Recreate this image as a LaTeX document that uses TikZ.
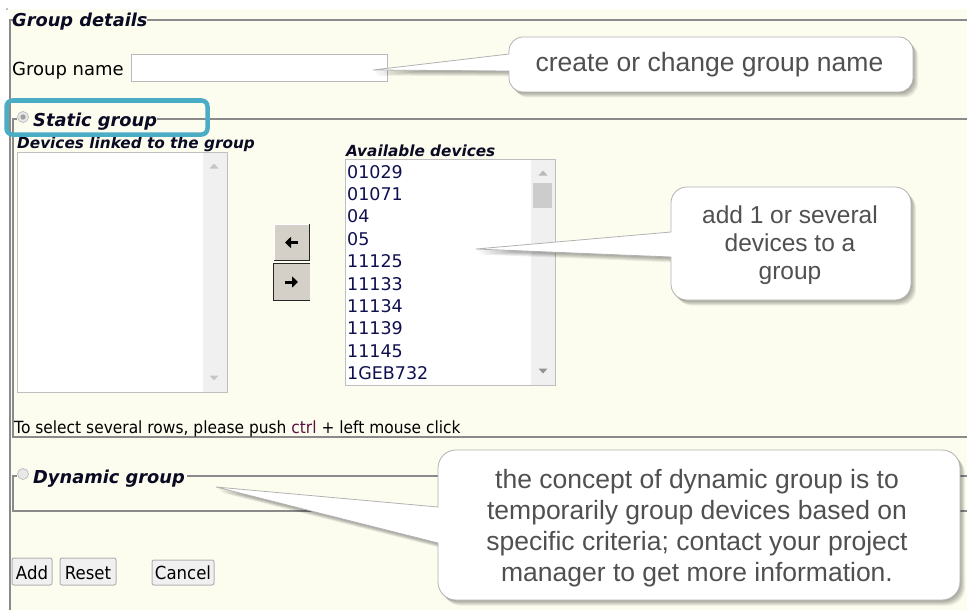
\documentclass[tikz,border=0pt]{standalone}
\usepackage{fontspec}
\setmainfont{DejaVu Sans}
\newfontfamily\formfont{DejaVu Sans}
\newfontfamily\callfont{Liberation Sans}
\newfontfamily\narrowfont[FakeStretch=0.92]{DejaVu Sans}
\usetikzlibrary{arrows.meta}
\definecolor{cream}{HTML}{FDFDEF}
\definecolor{fsgray}{HTML}{8A8A8A}
\definecolor{hiblue}{HTML}{4BACC6}
\definecolor{calltext}{HTML}{505050}
\definecolor{legendc}{HTML}{0A0A24}
\definecolor{itemc}{HTML}{101050}
\definecolor{btnface}{HTML}{D4D0C8}
\newcommand{\calloutOnePath}{(373,70) -- (509,71) [rounded corners=14pt] -- (509,92) -- (913,92) -- (913,37) -- (509,37) [sharp corners] -- (509,54) -- cycle}
\newcommand{\calloutTwoPath}{(476,249) -- (671,257) [rounded corners=16pt] -- (671,300) -- (911,300) -- (911,187) -- (671,187) [sharp corners] -- (671,232) -- cycle}
\newcommand{\calloutThreePath}{(216,487) -- (438,543) [rounded corners=18pt] -- (438,600) -- (960,600) -- (960,450) -- (438,450) [sharp corners] -- (438,507) -- cycle}
\newcommand{\softshadow}[1]{%
  \foreach \k in {1,2,3,4,5}{%
    \fill[black, opacity=0.07, shift={(\k,\k+0.5)}] #1;%
  }}
\tikzset{
  fsline/.style={draw=fsgray, line width=1.8pt},
  legend/.style={font=\formfont\bfseries\itshape\fontsize{17.8}{21}\selectfont, text=legendc, inner sep=0pt, anchor=base west},
  sublegend/.style={font=\formfont\bfseries\itshape\fontsize{15.3}{18}\selectfont, text=legendc, inner sep=0pt, anchor=base west},
  formtext/.style={font=\formfont\fontsize{18}{21}\selectfont, inner sep=0pt, anchor=base west},
  item/.style={font=\formfont\fontsize{17.5}{21}\selectfont, text=itemc, inner sep=0pt, anchor=base west},
  smalltext/.style={font=\narrowfont\fontsize{16.8}{20}\selectfont, inner sep=0pt, anchor=base west},
  btn/.style={draw=gray!60, fill=gray!12, rounded corners=2pt, line width=1pt},
  btntext/.style={font=\narrowfont\fontsize{18}{21}\selectfont, inner sep=0pt, anchor=base},
  listbox/.style={draw=gray!50, fill=white, line width=0.9pt},
  track/.style={fill=gray!12},
  callout/.style={fill=white, draw=gray!60, line width=0.8pt},
  calltxt/.style={font=\callfont\fontsize{26.5}{31}\selectfont, text=calltext, inner sep=0pt, anchor=base},
  calltxtb/.style={font=\callfont\fontsize{24.5}{29}\selectfont, text=calltext, inner sep=0pt, anchor=base},
  radio/.style={draw=gray!55, fill=gray!18, line width=0.7pt},
  arrowglyph/.style={line width=3pt, -{Triangle[length=6pt,width=11pt]}},
}
\begin{document}
\begin{tikzpicture}[x=1pt,y=-1pt]
\useasboundingbox (0,0) rectangle (967,610);
\fill[white] (0,0) rectangle (967,610);
\fill[cream] (9,9) rectangle (967,610);
\fill[gray!50] (5.5,8) rectangle (7.5,10);

% Group details fieldset
\draw[fsline] (13,20) -- (10,20) -- (10,610);
\draw[fsline] (147,20) -- (967,20);
\node[legend] (gd) at (12,26.5) {Group details};

% group name
\node[formtext] (gn) at (12,75.5) {Group name};
\draw[gray!55, fill=white, line width=0.9pt] (131.5,54.5) rectangle (387,81) coordinate (gnbox);

% Static group fieldset
\draw[fsline] (18,119) -- (13,119) -- (13,437) -- (967,437);
\draw[fsline] (157,119) -- (967,119);
\fill[cream] (17,110) rectangle (31,124);
\draw[radio] (23,117) circle (5.5);
\fill[gray!75] (23,117) circle (2.7);
\node[legend] (sg) at (33,126) {Static group};

\node[sublegend] (dl) at (17,148) {Devices linked to the group};
\node[sublegend] (ad) at (346,156.5) {Available devices};

% left list
\draw[listbox] (17.5,152.5) rectangle (227,392);
\fill[track] (203,153) rectangle (226.5,391.5);
\fill[gray!45] (209.5,168.5) -- (218.5,168.5) -- (214,163.5) -- cycle;
\fill[gray!45] (209.5,375.5) -- (218.5,375.5) -- (214,380.5) -- cycle;

% right list
\draw[listbox] (345.5,159.5) rectangle (555,385);
\fill[track] (531,160) rectangle (554.5,384.5);
\fill[gray!40] (533,183) rectangle (551.5,208);
\fill[gray!55] (538.5,175.5) -- (547.5,175.5) -- (543,170.5) -- cycle;
\fill[gray!85] (538.5,368.5) -- (547.5,368.5) -- (543,373.5) -- cycle;
\foreach \t [count=\i from 0] in {01029,01071,04,05,11125,11133,11134,11139,11145,1GEB732}{
  \node[item] (it\i) at (347,178+22.4*\i) {\t};
}

% arrow buttons
\fill[btnface] (274,224) rectangle (310,261);
\draw[white, line width=1.2pt] (274.5,261) -- (274.5,224.5) -- (310,224.5);
\draw[gray!30!black, line width=1.6pt] (274,260.5) -- (309.5,260.5) -- (309.5,224);
\coordinate (blr) at (298,242.5);
\coordinate (bll) at (285,242.5);
\draw[arrowglyph] (blr) -- (bll);
\fill[btnface] (273,263) rectangle (310,301);
\draw[gray!30!black, line width=1.6pt] (273.5,301) -- (273.5,263.5) -- (310,263.5);
\draw[gray!30!black, line width=1.4pt] (273.5,300.5) -- (310,300.5);
\coordinate (brl) at (285,282);
\coordinate (brr) at (298,282);
\draw[arrowglyph] (brl) -- (brr);

% hint
\node[smalltext] (hint) at (14,433) {To select several rows, please push {\color[HTML]{5A1040}ctrl} + left mouse click};

% Dynamic group fieldset
\draw[fsline] (18,476) -- (13,476) -- (13,511) -- (967,511);
\draw[fsline] (187,476) -- (967,476);
\fill[cream] (17,467) rectangle (31,481);
\draw[radio] (23,474) circle (5.5);
\node[legend] (dg) at (33,483) {Dynamic group};

% bottom buttons
\draw[btn] (12,558) rectangle (52,585);
\node[btntext] (badd) at (32,579) {Add};
\draw[btn] (60,558) rectangle (116,585);
\node[btntext] (breset) at (88,579) {Reset};
\draw[btn] (152,560) rectangle (214,585);
\node[btntext] (bcancel) at (183,579) {Cancel};

% blue highlight
\draw[hiblue, line width=4.5pt, rounded corners=6pt] (6.5,100.5) rectangle (207.5,134.5);

% callout 1
\softshadow{\calloutOnePath}
\path[callout] \calloutOnePath;
\node[calltxt] (c1) at (709.5,72) {create or change group name};

% callout 2
\softshadow{\calloutTwoPath}
\path[callout] \calloutTwoPath;
\node[calltxtb] (c2a) at (790,223) {add 1 or several};
\node[calltxtb] (c2b) at (790,251.5) {devices to a};
\node[calltxtb] (c2c) at (790,279) {group};

% callout 3
\softshadow{\calloutThreePath}
\path[callout] \calloutThreePath;
\node[calltxt] (c3a) at (697,488) {the concept of dynamic group is to};
\node[calltxt] (c3b) at (697,519) {temporarily group devices based on};
\node[calltxt] (c3c) at (697,550) {specific criteria; contact your project};
\node[calltxt] (c3d) at (697,581) {manager to get more information.};
\end{tikzpicture}
\end{document}
